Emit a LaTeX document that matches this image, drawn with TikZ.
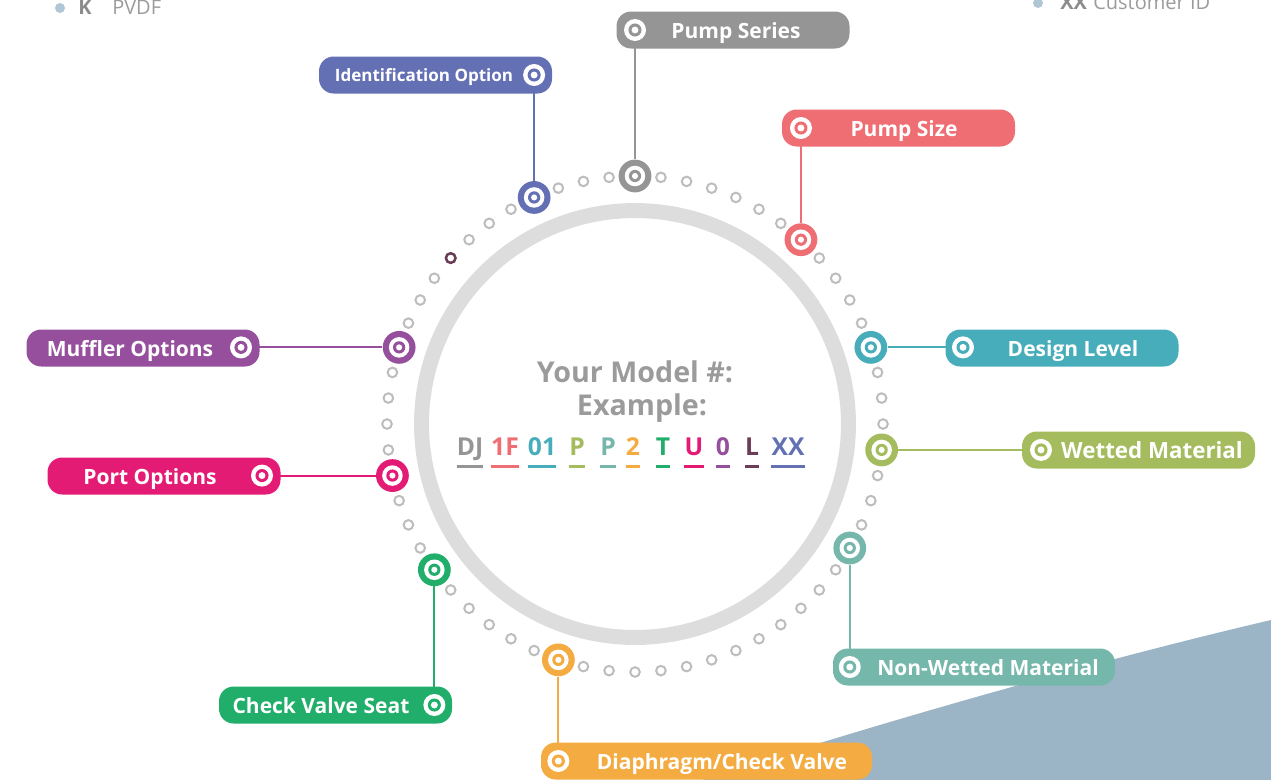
\documentclass[tikz,border=0pt]{standalone}
\usepackage{fontspec}
\setmainfont{Open Sans}
\definecolor{cSeries}{HTML}{959595}
\definecolor{cIdent}{HTML}{6470B4}
\definecolor{cSize}{HTML}{EE6E73}
\definecolor{cDesign}{HTML}{47ADBA}
\definecolor{cWetted}{HTML}{A4BC5E}
\definecolor{cNonWet}{HTML}{75B7AA}
\definecolor{cDiaph}{HTML}{F4AC42}
\definecolor{cCheck}{HTML}{20AE6A}
\definecolor{cPort}{HTML}{E41B75}
\definecolor{cMuffler}{HTML}{954F9C}
\definecolor{cL}{HTML}{6B3D56}
\definecolor{dotgray}{HTML}{BDBDBD}
\definecolor{ringgray}{HTML}{DDDDDD}
\definecolor{titlegray}{HTML}{9B9B9B}
\definecolor{bgblue}{HTML}{9CB5C6}
\definecolor{legenddot}{HTML}{AFC6D4}
\tikzset{
  dot/.style     = {circle, draw=dotgray, fill=white, line width=1.5pt, minimum size=7.2pt, inner sep=0pt},
  hub/.style     = {circle, fill=#1, minimum size=24.6pt, inner sep=0pt,
                    path picture={\fill[white] (path picture bounding box.center) circle (7.7pt);
                                  \fill[#1]    (path picture bounding box.center) circle (4.6pt);
                                  \fill[white] (path picture bounding box.center) circle (2.3pt);}},
  bullet/.style  = {circle, fill=white, minimum size=16.5pt, inner sep=0pt,
                    path picture={\fill[#1]    (path picture bounding box.center) circle (4.9pt);
                                  \fill[white] (path picture bounding box.center) circle (2.6pt);}},
  tag/.style     = {fill=#1, rounded corners=11pt, minimum height=27.75pt, minimum width=174.75pt, inner sep=0pt},
  tagtext/.style = {text=white, anchor=base, inner sep=0pt, font=\bfseries\fontsize{15.75}{18}\selectfont},
  link/.style    = {draw=#1, line width=1.5pt},
  code/.style    = {anchor=base, inner sep=0pt, font=\bfseries\fontsize{18.5}{20}\selectfont}
}
\begin{document}
\begin{tikzpicture}[x=0.75pt, y=-0.75pt]
        \useasboundingbox (0,0) rectangle (1271,779);
        \coordinate (c) at (635,424);
        \fill[bgblue] (687,785) .. controls (880,722) and (1100,660) .. (1271,620) -- (1271,785) -- cycle;
        \node[circle, fill=legenddot, minimum size=7.5pt, inner sep=0pt] (kdot) at (60,8) {};
        \node[anchor=base west, inner sep=0pt, text=titlegray!90!black, font=\bfseries\fontsize{15}{18}\selectfont] (k) at (78,14) {K};
        \node[anchor=base west, inner sep=0pt, text=titlegray, font=\fontsize{15}{18}\selectfont] (pvdf) at (112,14) {PVDF};
        \node[circle, fill=legenddot, minimum size=7.5pt, inner sep=0pt] (xxdot) at (1038,3) {};
        \node[anchor=base west, inner sep=0pt, text=titlegray!90!black, font=\bfseries\fontsize{15}{18}\selectfont] (xx) at (1060,9) {XX};
        \node[anchor=base west, inner sep=0pt, text=titlegray, font=\fontsize{15}{18}\selectfont] (custid) at (1093,9) {Customer ID};
        \draw[ringgray, line width=11.25pt] (c) circle (160.1pt);
        \foreach \a in {0,6,...,354}
          \node[dot] (d\a) at ([shift={(\a:248)}]c) {};
        \node[dot, draw=cL, line width=1.9pt] (lmark) at ([shift={(-138:248)}]c) {};
        \node[hub=cSeries]  (series)  at ([shift={(-90:248)}]c)  {};
        \node[hub=cIdent]   (ident)   at ([shift={(-114:248)}]c) {};
        \node[hub=cSize]    (size)    at ([shift={(-48:248)}]c)  {};
        \node[hub=cDesign]  (design)  at ([shift={(-18:248)}]c)  {};
        \node[hub=cWetted]  (wetted)  at ([shift={(6:248)}]c)    {};
        \node[hub=cNonWet]  (nonwet)  at ([shift={(30:248)}]c)   {};
        \node[hub=cDiaph]   (diaph)   at ([shift={(108:248)}]c)  {};
        \node[hub=cCheck]   (check)   at ([shift={(144:248)}]c)  {};
        \node[hub=cPort]    (port)    at ([shift={(168:248)}]c)  {};
        \node[hub=cMuffler] (muffler) at ([shift={(-162:248)}]c) {};
        \node[tag=cSeries]                       (series-box)  at (733,30)    {};
        \node[tag=cIdent]                        (ident-box)   at (435.5,75)  {};
        \node[tag=cSize]                         (size-box)    at (898.5,128) {};
        \node[tag=cDesign]                       (design-box)  at (1062,348)  {};
        \node[tag=cWetted]                       (wetted-box)  at (1138.5,450) {};
        \node[tag=cNonWet, minimum width=211.5pt] (nonwet-box) at (974,667)   {};
        \node[tag=cDiaph, minimum width=248.25pt] (diaph-box)  at (706.5,761) {};
        \node[tag=cCheck]                        (check-box)   at (335.5,705) {};
        \node[tag=cPort]                         (port-box)    at (164,476)   {};
        \node[tag=cMuffler]                      (muffler-box) at (143,348)   {};
        \node[tagtext] (series-text)  at (736,38)   {Pump Series};
        \node[tagtext, font=\bfseries\fontsize{12.75}{15}\selectfont] (ident-text) at (424,81) {Identification Option};
        \node[tagtext] (size-text)    at (904,136)  {Pump Size};
        \node[tagtext] (design-text)  at (1073,356) {Design Level};
        \node[tagtext, font=\bfseries\fontsize{16.75}{19}\selectfont] (wetted-text) at (1152,458) {Wetted Material};
        \node[tagtext] (nonwet-text)  at (988,675)  {Non-Wetted Material};
        \node[tagtext] (diaph-text)   at (722,769)  {Diaphragm/Check Valve};
        \node[tagtext] (check-text)   at (321,713)  {Check Valve Seat};
        \node[tagtext] (port-text)    at (150,484)  {Port Options};
        \node[tagtext] (muffler-text) at (130,356)  {Muffler Options};
        \node[bullet=cSeries]  (series-pin)  at (series |- 0,30)   {};
        \node[bullet=cIdent]   (ident-pin)   at (ident |- 0,75)    {};
        \node[bullet=cSize]    (size-pin)    at (size |- 0,128)    {};
        \node[bullet=cDesign]  (design-pin)  at (963,0 |- design)  {};
        \node[bullet=cWetted]  (wetted-pin)  at (1041,0 |- wetted) {};
        \node[bullet=cNonWet]  (nonwet-pin)  at (nonwet |- 0,667)  {};
        \node[bullet=cDiaph]   (diaph-pin)   at (diaph |- 0,761)   {};
        \node[bullet=cCheck]   (check-pin)   at (check |- 0,705)   {};
        \node[bullet=cPort]    (port-pin)    at (262,0 |- port)    {};
        \node[bullet=cMuffler] (muffler-pin) at (241,0 |- muffler) {};
        \draw[link=cSeries]  (series-pin)  -- (series);
        \draw[link=cIdent]   (ident-pin)   -- (ident);
        \draw[link=cSize]    (size-pin)    -- (size);
        \draw[link=cDesign]  (design-pin)  -- (design);
        \draw[link=cWetted]  (wetted-pin)  -- (wetted);
        \draw[link=cNonWet]  (nonwet-pin)  -- (nonwet);
        \draw[link=cDiaph]   (diaph-pin)   -- (diaph);
        \draw[link=cCheck]   (check-pin)   -- (check);
        \draw[link=cPort]    (port-pin)    -- (port);
        \draw[link=cMuffler] (muffler-pin) -- (muffler);
        \node[text=titlegray, font=\bfseries\fontsize{21.5}{24}\selectfont, inner sep=0pt] (title)   at (635,372) {Your Model \#:};
        \node[text=titlegray, font=\bfseries\fontsize{21.5}{24}\selectfont, inner sep=0pt] (example) at (642,408) {Example:};
        \foreach \t/\col/\x [count=\i] in {DJ/cSeries/470, 1F/cSize/505, 01/cDesign/542, P/cWetted/577, P/cNonWet/608,
                                           2/cDiaph/633, T/cCheck/663, U/cPort/694, 0/cMuffler/723, L/cL/752, XX/cIdent/788} {
          \node[code, text=\col] (code\i) at (\x,455) {\t};
          \draw[\col, line width=2.25pt] ([yshift=-8.25pt]code\i.base west) -- ([yshift=-8.25pt]code\i.base east);
        }
      \end{tikzpicture}
\end{document}
